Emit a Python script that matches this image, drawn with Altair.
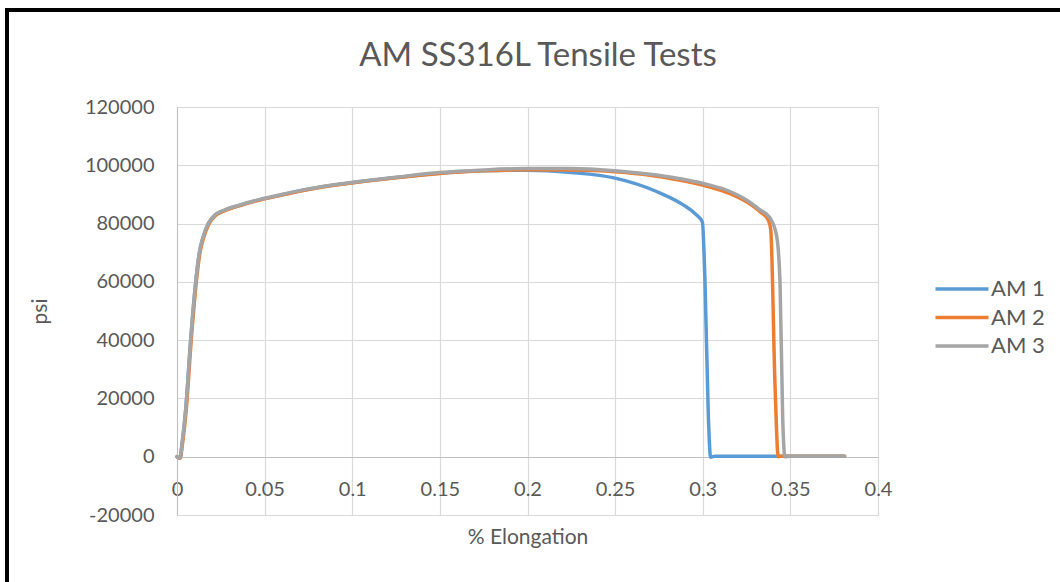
import altair as alt
import pandas as pd

chart_title = "AM SS316L Tensile Tests"
series_names = ["AM 1", "AM 2", "AM 3"]
series_colors = ["#5B9BD5", "#ED7D31", "#A5A5A5"]

am1_x = [0, 0.0017, 0.0030, 0.0051, 0.0078, 0.0108, 0.0127, 0.0150, 0.0179, 0.0217, 0.0274, 0.036,
         0.0474, 0.06, 0.075, 0.0997, 0.125, 0.15, 0.175, 0.2, 0.225, 0.25, 0.2737, 0.2889, 0.296,
         0.2998, 0.3013, 0.3032, 0.3045, 0.307, 0.32, 0.35, 0.38]
am1_y = [0, -450, 5000, 17200, 40000, 60600, 69800, 75500, 80000, 82900, 84600, 86300,
         88200, 89900, 91800, 94000, 95800, 97300, 98100, 98300, 97500, 95600, 91000, 86400, 83200,
         80500, 59600, 13800, -200, 200, 200, 200, 200]

am2_x = [0, 0.0018, 0.0032, 0.0054, 0.0081, 0.0111, 0.0130, 0.0153, 0.0182, 0.0220, 0.0277, 0.036,
         0.0474, 0.06, 0.075, 0.0997, 0.125, 0.15, 0.175, 0.2, 0.225, 0.25, 0.27, 0.283, 0.302,
         0.3156, 0.325, 0.3327, 0.3374, 0.3388, 0.3412, 0.3431, 0.345, 0.381]
am2_y = [0, -500, 4800, 17000, 39800, 60400, 69600, 75300, 79900, 82800, 84500, 86200,
         88100, 89800, 91700, 93900, 95700, 97200, 98100, 98500, 98400, 97800, 96600, 95300, 92900,
         90300, 87500, 84100, 81200, 77900, 25300, 0, 200, 200]

am3_x = [0, 0.0017, 0.0030, 0.0051, 0.0078, 0.0108, 0.0127, 0.0150, 0.0179, 0.0217, 0.0274, 0.036,
         0.0474, 0.06, 0.075, 0.0997, 0.125, 0.15, 0.175, 0.2, 0.225, 0.25, 0.27, 0.283, 0.302,
         0.3156, 0.325, 0.3327, 0.3384, 0.3422, 0.3441, 0.3456, 0.3469, 0.35, 0.381]
am3_y = [0, -450, 5000, 17250, 40100, 60700, 69900, 75600, 80100, 83000, 84700, 86400,
         88300, 90000, 91900, 94100, 95900, 97500, 98400, 98900, 98900, 98100, 96900, 95800, 93500,
         91000, 88100, 84700, 81900, 75600, 59600, 13800, 0, 200, 200]

x_ticks = [0, 0.05, 0.1, 0.15, 0.2, 0.25, 0.3, 0.35, 0.4]
y_ticks = [-20000, 0, 20000, 40000, 60000, 80000, 100000, 120000]

rows = []
for name, xs, ys in [("AM 1", am1_x, am1_y), ("AM 2", am2_x, am2_y), ("AM 3", am3_x, am3_y)]:
    for i, (xv, yv) in enumerate(zip(xs, ys)):
        rows.append({"series": name, "x": xv, "y": yv, "idx": i})
df = pd.DataFrame(rows)

FONT = "Lato"
TXT = "#595959"

lines = alt.Chart(df).mark_line(strokeWidth=3.5, interpolate="monotone", strokeCap="round", strokeJoin="round").encode(
    x=alt.X("x:Q", scale=alt.Scale(domain=[0, 0.4], nice=False, zero=False),
            axis=alt.Axis(values=x_ticks, format="~g", title="% Elongation", offset=-58,
                          tickSize=0, labelPadding=22, labelFlush=False, domain=True,
                          domainColor="#BFBFBF", titleY=80, titleBaseline="middle")),
    y=alt.Y("y:Q", scale=alt.Scale(domain=[-20000, 120000], nice=False),
            axis=alt.Axis(values=y_ticks, labelExpr="'' + datum.value", title="psi", tickSize=0,
                          labelPadding=23, labelFlush=False, domain=True, domainColor="#BFBFBF",
                          titleX=-137, titleY=204, titleBaseline="middle")),
    color=alt.Color("series:N", scale=alt.Scale(domain=series_names, range=series_colors),
                    legend=alt.Legend(title=None, orient="none", legendX=770, legendY=167,
                                      symbolType="M-2,0H2", symbolSize=702, symbolStrokeWidth=3.5,
                                      labelFontSize=22, labelColor=TXT, labelFont=FONT,
                                      rowPadding=2.5, labelOffset=14, padding=0)),
    order="idx:Q",
)

title_text = alt.Chart(pd.DataFrame({"t": [chart_title]})).mark_text(
    font=FONT, fontSize=33, color=TXT, align="center", baseline="middle"
).encode(text="t:N", x=alt.value(361), y=alt.value(-51))

border_top = alt.Chart(df).mark_rule(color="black", strokeWidth=3).encode(
    x=alt.value(-172), x2=alt.value(900), y=alt.value(-97)
)
border_left = alt.Chart(df).mark_rule(color="black", strokeWidth=3).encode(
    x=alt.value(-170), y=alt.value(-99), y2=alt.value(500)
)

chart = alt.layer(lines, title_text, border_top, border_left).properties(
    width=701, height=408,
    background="white",
    autosize=alt.AutoSizeParams(type="none"),
    padding={"left": 177, "top": 107, "right": 182, "bottom": 67},
).configure_view(stroke=None).configure_axis(
    gridColor="#D9D9D9", gridWidth=1.2, labelFont=FONT, labelFontSize=20, labelColor=TXT,
    titleFont=FONT, titleFontSize=21, titleColor=TXT, titleFontWeight="normal",
)

chart.save("out.html", embed_options={"renderer": "svg", "actions": False})
